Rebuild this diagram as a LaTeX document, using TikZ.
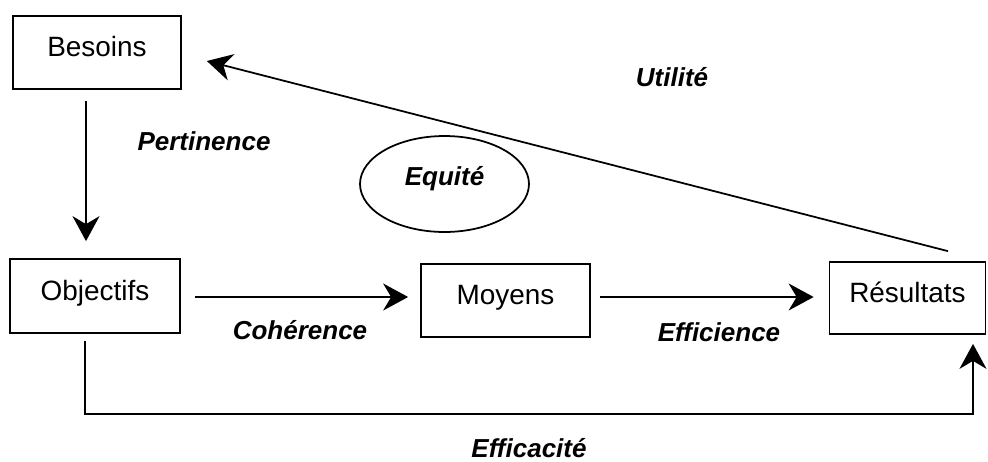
\documentclass[tikz,border=0pt]{standalone}
\usepackage{fontspec}
\setmainfont{Liberation Sans}
\usetikzlibrary{arrows.meta,shapes.geometric,calc}

\begin{document}
\begin{tikzpicture}[x=0.02cm,y=-0.02cm,
		boite/.style={draw,line width=1pt,inner sep=0pt,font=\fontsize{15.9pt}{18pt}\selectfont,text height=0.4cm,text depth=0.24cm},
		critere/.style={font=\fontsize{14.8pt}{17pt}\selectfont\bfseries\itshape},
		fleche/.style={line width=1pt,-{Stealth[length=0.5cm,width=0.54cm,inset=0.16cm]}}]
			\useasboundingbox (0,0) rectangle (988,461);
			\node[boite,minimum width=3.36cm,minimum height=1.46cm] (besoins) at (97,52.5) {Besoins};
			\node[boite,minimum width=3.4cm,minimum height=1.48cm] (objectifs) at (95,296) {Objectifs};
			\node[boite,minimum width=3.38cm,minimum height=1.46cm] (moyens) at (505.5,300.5) {Moyens};
			\node[boite,minimum width=3.12cm,minimum height=1.44cm] (resultats) at (907.5,298) {Résultats};
			\node[ellipse,draw,line width=1pt,inner sep=0pt,minimum width=3.38cm,minimum height=1.92cm,critere,text height=0.3cm,text depth=0.25cm] (equite) at (444.5,184) {Equité};
			\draw[fleche] ($(besoins.south)+(-11,11)$) -- ($(objectifs.north)+(-9,-17)$);
			\draw[fleche] ($(objectifs.east)+(14,1)$) -- ($(moyens.west)+(-12,-3.5)$);
			\draw[fleche] ($(moyens.east)+(9,-3.5)$) -- ($(resultats.west)+(-15,-1)$);
			\draw[fleche] ($(resultats.north)+(40.5,-10)$) -- ($(besoins.east)+(25,8.5)$);
			\draw[fleche] ($(objectifs.south)+(-10,7)$) -- ++(0,73) -| ($(resultats.south)+(65.5,9)$);
			\node[critere] (pertinence) at (204,141) {Pertinence};
			\node[critere] (utilite) at (672,77) {Utilité};
			\node[critere] (coherence) at (300,330) {Cohérence};
			\node[critere] (efficience) at (719,332) {Efficience};
			\node[critere] (efficacite) at (529,448) {Efficacité};
		\end{tikzpicture}
\end{document}
